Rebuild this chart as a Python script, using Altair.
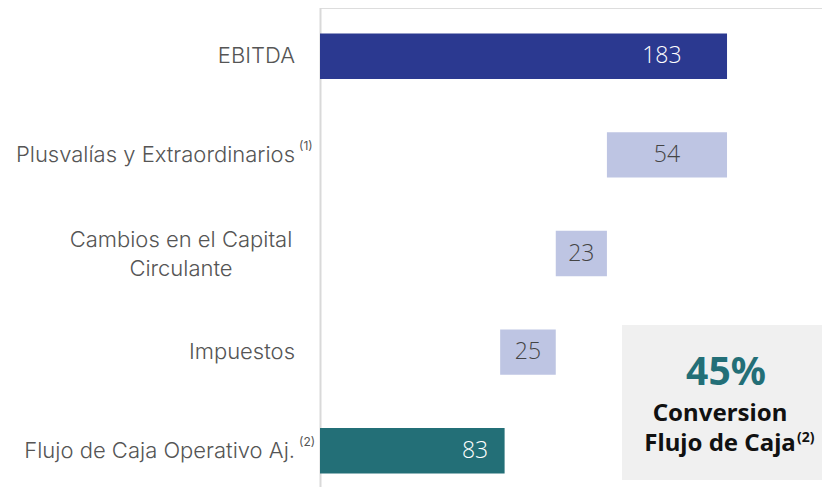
import altair as alt
import pandas as pd

# ---- data ----
categories = [
    "EBITDA",
    "Plusvalías y Extraordinarios",
    "Cambios en el Capital Circulante",
    "Impuestos",
    "Flujo de Caja Operativo Aj.",
]
label_lines = [
    ["EBITDA"],
    ["Plusvalías y Extraordinarios"],
    ["Cambios en el Capital", "Circulante"],
    ["Impuestos"],
    ["Flujo de Caja Operativo Aj."],
]
superscripts = ["", "(1)", "", "", "(2)"]
values = [183, 54, 23, 25, 83]
kinds = ["total", "delta", "delta", "delta", "total"]
bar_colors = ["#2b3990", "#bec5e3", "#bec5e3", "#bec5e3", "#236f77"]

box_pct = "45%"
box_lines = ["Conversion", "Flujo de Caja"]
box_sup = "(2)"

# ---- waterfall table ----
rows = []
running = 0
for cat, lines, sup, v, k in zip(categories, label_lines, superscripts, values, kinds):
    if k == "total":
        start, end = 0, v
        running = v
        lab = end - 0.16 * v
    else:
        end = running
        start = running - v
        running = start
        lab = (start + end) / 2
    rows.append(dict(cat=cat, lines=lines, multi=len(lines) > 1, sup=sup, kind=k,
                     value=v, start=start, end=end, lab=lab))
df = pd.DataFrame(rows)

VAL_FONT = "Open Sans"
CAT_FONT = "Inter"

y_enc = alt.Y(
    "cat:N",
    sort=categories,
    scale=alt.Scale(range=[-1, 492], paddingInner=0.54, paddingOuter=0.27),
    axis=alt.Axis(labels=False, ticks=False, title=None, grid=False,
                  domainColor="#d9d9d9", domainWidth=2),
)
x_scale = alt.Scale(domain=[0, 225.7], nice=False, zero=True)

base = alt.Chart(df)

bars = base.mark_bar().encode(
    y=y_enc,
    x=alt.X("start:Q", scale=x_scale, axis=None),
    x2="end:Q",
    color=alt.Color("cat:N", scale=alt.Scale(domain=categories, range=bar_colors), legend=None),
)

vals = base.mark_text(font=VAL_FONT, fontSize=23, fontWeight=300, align="center", baseline="middle").encode(
    y=alt.Y("cat:N", sort=categories),
    x=alt.X("lab:Q"),
    text=alt.Text("value:Q"),
    color=alt.condition("datum.kind == 'total'", alt.value("#ffffff"), alt.value("#444444")),
)

cat_single = base.transform_filter("!datum.multi").mark_text(
    font=CAT_FONT, fontSize=22, fontWeight=300, align="right", baseline="middle", color="#555555"
).encode(y=alt.Y("cat:N", sort=categories), x=alt.value(-25), text="lines")

cat_multi = base.transform_filter("datum.multi").mark_text(
    font=CAT_FONT, fontSize=22, fontWeight=300, align="center", baseline="middle", color="#555555",
    lineHeight=29, dy=-14
).encode(y=alt.Y("cat:N", sort=categories), x=alt.value(-139), text="lines")

sups = base.transform_filter("datum.sup != ''").mark_text(
    font=CAT_FONT, fontSize=12, align="left", baseline="middle", color="#555555", dy=-9
).encode(y=alt.Y("cat:N", sort=categories), x=alt.value(-21), text="sup")

box_df = pd.DataFrame({"pct": [box_pct], "lines": [box_lines], "sup": [box_sup]})
box = alt.Chart(box_df).mark_rect(color="#f0f0f0").encode(
    x=alt.value(302), x2=alt.value(502), y=alt.value(317), y2=alt.value(472)
)
pct = alt.Chart(box_df).mark_text(font="Noto Sans", fontSize=39, fontWeight="bold", color="#236f77",
                                  align="center", baseline="middle").encode(
    x=alt.value(406), y=alt.value(365), text="pct")
# two centred lines as one multi-line text block
conv = alt.Chart(box_df).mark_text(font="Noto Sans", fontSize=24, fontWeight="bold", color="#111111",
                                   align="center", baseline="middle", lineHeight=30).encode(
    x=alt.value(400), y=alt.value(406), text="lines")
conv_sup = alt.Chart(box_df).mark_text(font="Noto Sans", fontSize=14, fontWeight="bold", color="#111111",
                                       align="left", baseline="middle").encode(
    x=alt.value(477), y=alt.value(430), text="sup")

chart = alt.layer(bars, vals, cat_single, cat_multi, sups, box, pct, conv, conv_sup).properties(
    width=502, height=479,
    autosize=alt.AutoSizeParams(type="none"),
    padding={"left": 312, "top": 0, "right": 0, "bottom": 0},
).configure_view(stroke=None).configure(background="white")

chart.save("out.html", embed_options={"renderer": "svg", "actions": False})
